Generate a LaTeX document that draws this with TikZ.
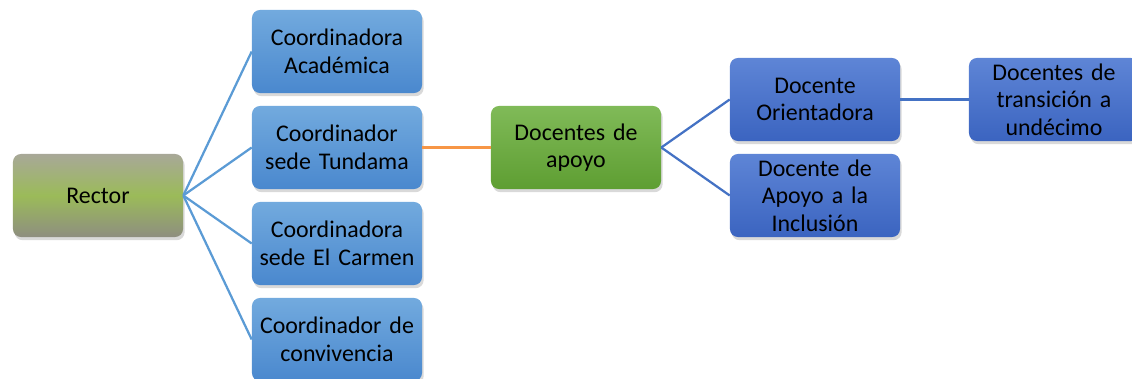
\documentclass[tikz,border=0pt]{standalone}
\usepackage{fontspec}
\setmainfont{Carlito}
\usetikzlibrary{shadows}

\definecolor{lineblue}{HTML}{5B9BD5}
\definecolor{linedark}{HTML}{4472C4}
\definecolor{lineorange}{HTML}{F79646}
\definecolor{rectortop}{HTML}{A8A898}
\definecolor{rectormid}{HTML}{9BBB59}
\definecolor{rectorbot}{HTML}{8E8E80}
\definecolor{coordtop}{HTML}{72AADE}
\definecolor{coordbot}{HTML}{4A88CE}
\definecolor{apoyotop}{HTML}{80BA58}
\definecolor{apoyobot}{HTML}{5E9E32}
\definecolor{doctop}{HTML}{5E85D6}
\definecolor{docbot}{HTML}{3B64C0}

\tikzset{
  box/.style={rectangle,rounded corners=0.2cm,minimum width=4.25cm,minimum height=2.075cm,
    inner xsep=0.05cm,text width=4.15cm,align=center,font=\fontsize{17}{19.5}\selectfont,
    drop shadow={opacity=0.3,shadow xshift=0.04cm,shadow yshift=-0.08cm}},
  rectorbox/.style={box,top color=rectortop,bottom color=rectorbot,middle color=rectormid},
  coordbox/.style={box,top color=coordtop,bottom color=coordbot},
  apoyobox/.style={box,top color=apoyotop,bottom color=apoyobot},
  docbox/.style={box,top color=doctop,bottom color=docbot},
  link/.style={line width=1.6pt}
}

\begin{document}
\begin{tikzpicture}[x=0.025cm,y=-0.025cm]

   \useasboundingbox (0,0) rectangle (1132,379);

   % nodos
   \node[rectorbox] (rector) at (98,195.5) {Rector};

   \node[coordbox] (c1) at (337,51.5) {Coordinadora\\Académica};
   \node[coordbox] (c2) at (337,147.5) {Coordinador\\sede Tundama};
   \node[coordbox] (c3) at (337,243.5) {Coordinadora\\sede El Carmen};
   \node[coordbox] (c4) at (337,339.5) {Coordinador de\\convivencia};

   \node[apoyobox] (apoyo) at (576,147.5) {Docentes de\\apoyo};

   \node[docbox] (d1) at (815,99.5) {Docente\\Orientadora};
   \node[docbox] (d2) at (815,195.5) {Docente de\\Apoyo a la\\Inclusión};

   \node[docbox] (d3) at (1054,99.5) {Docentes de\\transición a\\undécimo};

   % conectores
   \foreach \coord in {c1,c2,c3,c4}
      \draw[link,lineblue] (rector.east) -- (\coord.west);

   \draw[link,lineorange] (c2.east) -- (apoyo.west);

   \draw[link,linedark] (apoyo.east) -- (d1.west);
   \draw[link,linedark] (apoyo.east) -- (d2.west);
   \draw[link,linedark] (d1.east) -- (d3.west);

\end{tikzpicture}
\end{document}
